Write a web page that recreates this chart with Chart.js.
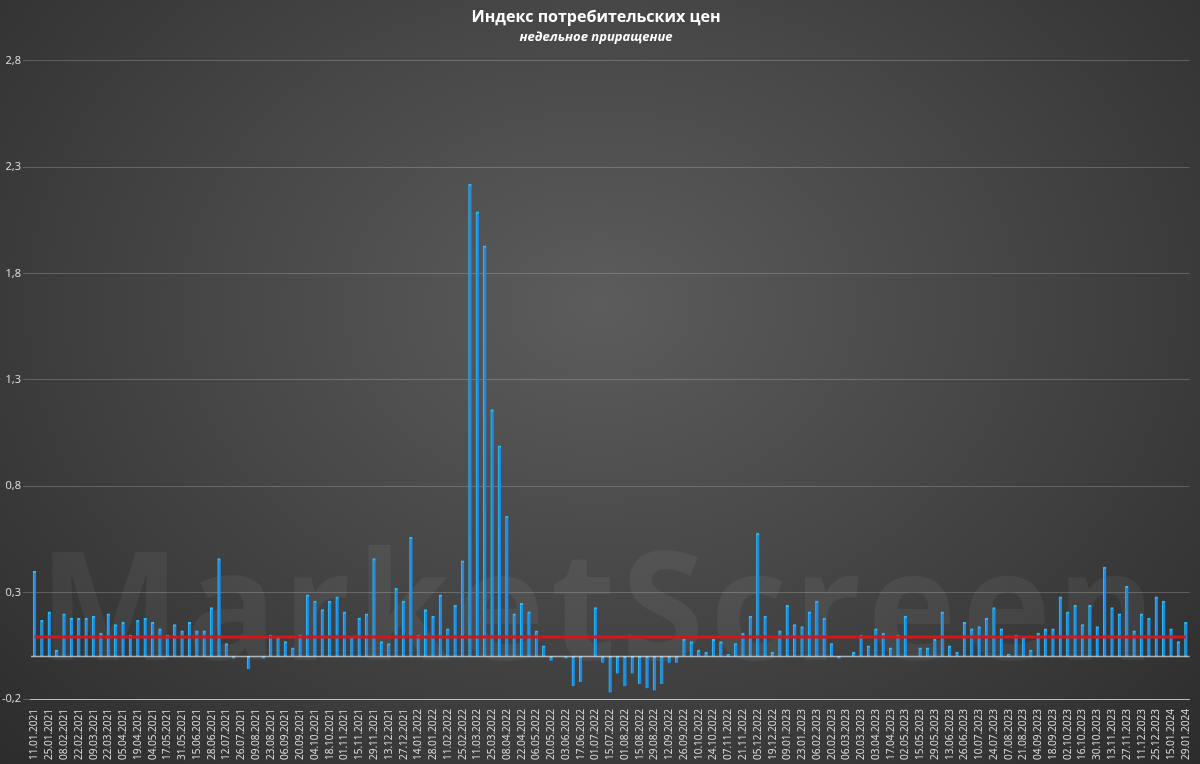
<!DOCTYPE html>
<html><head><meta charset="utf-8">
<script src="https://cdn.jsdelivr.net/npm/chart.js@4/dist/chart.umd.min.js"></script>
<style>
html,body{margin:0;padding:0;width:1200px;height:764px;overflow:hidden;}
body{background:radial-gradient(ellipse at 50% 40%, #5c5c5c 0%, #474747 45%, #2c2c2c 100%);position:relative;font-family:"Open Sans",sans-serif;}
#wm{position:absolute;left:0;top:500px;width:1200px;text-align:center;font:bold 150px "Open Sans",sans-serif;color:rgba(255,255,255,0.055);letter-spacing:6px;}
#c{position:absolute;left:0;top:0;}
</style></head><body>
<div id="wm">MarketScreen</div>
<canvas id="c" width="1200" height="764"></canvas>
<script>
const labels = [
"11.01.2021","18.01.2021","25.01.2021","01.02.2021","08.02.2021","15.02.2021","22.02.2021","01.03.2021","09.03.2021","15.03.2021","22.03.2021","29.03.2021","05.04.2021","12.04.2021","19.04.2021","26.04.2021","04.05.2021","10.05.2021","17.05.2021","24.05.2021","31.05.2021","07.06.2021","15.06.2021","21.06.2021","28.06.2021","05.07.2021","12.07.2021","19.07.2021","26.07.2021","02.08.2021","09.08.2021","16.08.2021","23.08.2021","30.08.2021","06.09.2021","13.09.2021","20.09.2021","27.09.2021","04.10.2021","11.10.2021","18.10.2021","25.10.2021","01.11.2021","08.11.2021","15.11.2021","22.11.2021","29.11.2021","06.12.2021","13.12.2021","20.12.2021","27.12.2021",
"07.01.2022","14.01.2022","21.01.2022","28.01.2022","04.02.2022","11.02.2022","18.02.2022","25.02.2022","04.03.2022","11.03.2022","18.03.2022","25.03.2022","01.04.2022","08.04.2022","15.04.2022","22.04.2022","29.04.2022","06.05.2022","13.05.2022","20.05.2022","27.05.2022","03.06.2022","10.06.2022","17.06.2022","24.06.2022","01.07.2022","08.07.2022","15.07.2022","25.07.2022","01.08.2022","08.08.2022","15.08.2022","22.08.2022","29.08.2022","05.09.2022","12.09.2022","19.09.2022","26.09.2022","03.10.2022","10.10.2022","17.10.2022","24.10.2022","31.10.2022","07.11.2022","14.11.2022","21.11.2022","28.11.2022","05.12.2022","12.12.2022","19.12.2022","26.12.2022",
"09.01.2023","16.01.2023","23.01.2023","30.01.2023","06.02.2023","13.02.2023","20.02.2023","27.02.2023","06.03.2023","13.03.2023","20.03.2023","27.03.2023","03.04.2023","10.04.2023","17.04.2023","24.04.2023","02.05.2023","08.05.2023","15.05.2023","22.05.2023","29.05.2023","05.06.2023","13.06.2023","19.06.2023","26.06.2023","03.07.2023","10.07.2023","17.07.2023","24.07.2023","31.07.2023","07.08.2023","14.08.2023","21.08.2023","28.08.2023","04.09.2023","11.09.2023","18.09.2023","25.09.2023","02.10.2023","09.10.2023","16.10.2023","23.10.2023","30.10.2023","06.11.2023","13.11.2023","20.11.2023","27.11.2023","04.12.2023","11.12.2023","18.12.2023","25.12.2023",
"09.01.2024","15.01.2024","22.01.2024","29.01.2024"];
const values2021 = [0.40,0.17,0.21,0.03,0.20,0.18,0.18,0.18,0.19,0.11,0.20,0.15,0.16,0.10,0.17,0.18,0.16,0.13,0.10,0.15,0.12,0.16,0.12,0.12,0.23,0.46,0.06,-0.01,0,-0.06,0,-0.01,0.10,0.09,0.07,0.04,0.10,0.29,0.26,0.22,0.26,0.28,0.21,0.09,0.18,0.20,0.46,0.07,0.06,0.32,0.26];
const values2022 = [0.56,0.10,0.22,0.19,0.29,0.13,0.24,0.45,2.22,2.09,1.93,1.16,0.99,0.66,0.20,0.25,0.21,0.12,0.05,-0.02,0,-0.01,-0.14,-0.12,0,0.23,-0.03,-0.17,-0.08,-0.14,-0.08,-0.13,-0.15,-0.16,-0.13,-0.03,-0.03,0.08,0.07,0.03,0.02,0.08,0.07,0.01,0.06,0.11,0.19,0.58,0.19,0.02,0.12];
const values2023 = [0.24,0.15,0.14,0.21,0.26,0.18,0.06,-0.01,0,0.02,0.10,0.05,0.13,0.11,0.04,0.10,0.19,0,0.04,0.04,0.08,0.21,0.05,0.02,0.16,0.13,0.14,0.18,0.23,0.13,0.01,0.10,0.09,0.03,0.11,0.13,0.13,0.28,0.21,0.24,0.15,0.24,0.14,0.42,0.23,0.20,0.33,0.12,0.20,0.18,0.28];
const values2024 = [0.26,0.13,0.07,0.16];
const values = [...values2021, ...values2022, ...values2023, ...values2024];
const AVERAGE = 0.092;
const yTicks = [-0.2,0.3,0.8,1.3,1.8,2.3,2.8];

const ctx = document.getElementById('c').getContext('2d');
new Chart(ctx,{
  data:{labels:labels,datasets:[
    {type:'line',data:labels.map(()=>AVERAGE),borderColor:'#d4161b',borderWidth:3,pointRadius:0,order:0},
    {type:'bar',data:values,backgroundColor:'#2189e0',borderColor:'#28bdf5',borderWidth:{top:2,left:1,right:0,bottom:0},borderSkipped:false,barThickness:3,order:1}
  ]},
  options:{responsive:false,animation:false,
    layout:{padding:{left:0,right:8,top:8,bottom:2}},
    plugins:{legend:{display:false},tooltip:{enabled:false},
      title:{display:true,text:'Индекс потребительских цен',color:'#fff',font:{family:'Open Sans',size:16,weight:'bold'},padding:{top:0,bottom:2}},
      subtitle:{display:true,text:'недельное приращение',color:'#fff',font:{family:'Open Sans',size:13,weight:'bold',style:'italic'},padding:{bottom:16}}
    },
    scales:{
      x:{offset:true,grid:{display:false},border:{color:'rgba(255,255,255,0.6)'},
        ticks:{color:'#e0e0e0',font:{family:'Open Sans',size:10},autoSkip:false,maxRotation:90,minRotation:90,padding:2,
          callback:function(v,i){return i%2===0?labels[i]:'';}}},
      y:{min:-0.2,max:2.8,
        afterBuildTicks:(s)=>{s.ticks=yTicks.map(v=>({value:v}));},
        grid:{color:'rgba(255,255,255,0.2)',lineWidth:1},border:{display:false},
        ticks:{color:'#e0e0e0',font:{family:'Open Sans',size:11},padding:2,callback:v=>v.toFixed(1).replace('.',',')}}
    }
  },
  plugins:[{id:'zero',afterDatasetsDraw(ch){const y=ch.scales.y.getPixelForValue(0),a=ch.chartArea,c=ch.ctx;c.save();c.strokeStyle='rgba(255,255,255,0.6)';c.lineWidth=1.5;c.beginPath();c.moveTo(a.left,y);c.lineTo(a.right,y);c.stroke();c.restore();}}]
});
</script></body></html>
